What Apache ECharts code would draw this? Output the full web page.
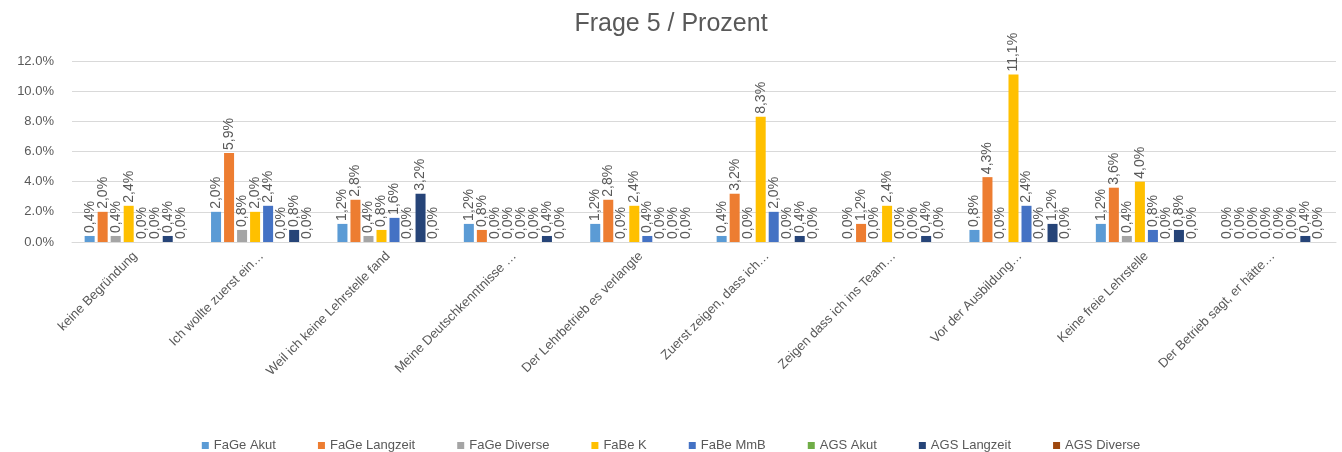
<!DOCTYPE html>
<html>
<head>
<meta charset="utf-8">
<script src="https://cdn.jsdelivr.net/npm/echarts@6/dist/echarts.min.js"></script>
<style>
  html, body { margin: 0; padding: 0; background: #fff; }
  #chart { width: 1342px; height: 452px; }
</style>
</head>
<body>
<div id="chart"></div>
<script>
// Kategorien (x-Achse)
var categories = ['keine Begründung', 'Ich wollte zuerst ein…', 'Weil ich keine Lehrstelle fand',
  'Meine Deutschkenntnisse …', 'Der Lehrbetrieb es verlangte', 'Zuerst zeigen, dass ich…',
  'Zeigen dass ich ins Team…', 'Vor der Ausbildung…', 'Keine freie Lehrstelle', 'Der Betrieb sagt, er hätte…'];

// Werte in Prozent je Serie
var fageAkut      = [0.4, 2.0, 1.2, 1.2, 1.2, 0.4, 0.0, 0.8, 1.2, 0.0];
var fageLangzeit  = [2.0, 5.9, 2.8, 0.8, 2.8, 3.2, 1.2, 4.3, 3.6, 0.0];
var fageDiverse   = [0.4, 0.8, 0.4, 0.0, 0.0, 0.0, 0.0, 0.0, 0.4, 0.0];
var fabeK         = [2.4, 2.0, 0.8, 0.0, 2.4, 8.3, 2.4, 11.1, 4.0, 0.0];
var fabeMmB       = [0.0, 2.4, 1.6, 0.0, 0.4, 2.0, 0.0, 2.4, 0.8, 0.0];
var agsAkut       = [0.0, 0.0, 0.0, 0.0, 0.0, 0.0, 0.0, 0.0, 0.0, 0.0];
var agsLangzeit   = [0.4, 0.8, 3.2, 0.4, 0.0, 0.4, 0.4, 1.2, 0.8, 0.4];
var agsDiverse    = [0.0, 0.0, 0.0, 0.0, 0.0, 0.0, 0.0, 0.0, 0.0, 0.0];

var seriesNames = ['FaGe Akut', 'FaGe Langzeit', 'FaGe Diverse', 'FaBe K', 'FaBe MmB', 'AGS Akut', 'AGS Langzeit', 'AGS Diverse'];
var seriesData = [fageAkut, fageLangzeit, fageDiverse, fabeK, fabeMmB, agsAkut, agsLangzeit, agsDiverse];
var colors = ['#5B9BD5', '#ED7D31', '#A5A5A5', '#FFC000', '#4472C4', '#70AD47', '#264478', '#9E480E'];

var txt = '#595959';
var font = 'Liberation Sans, Arial, sans-serif';

var chart = echarts.init(document.getElementById('chart'));

var series = [];
for (var i = 0; i < seriesNames.length; i++) {
  series.push({
    name: seriesNames[i],
    type: 'bar',
    data: seriesData[i],
    barGap: '30%',
    barCategoryGap: '20%',
    itemStyle: { color: colors[i] },
    label: {
      show: true,
      position: 'top',
      rotate: 90,
      align: 'left',
      verticalAlign: 'middle',
      distance: 3,
      color: txt,
      fontFamily: font,
      fontSize: 14,
      formatter: function (p) { return p.value.toFixed(1).replace('.', ',') + '%'; }
    }
  });
}

chart.setOption({
  animation: false,
  color: colors,
  title: {
    text: 'Frage 5 / Prozent',
    left: 'center',
    top: 7,
    textStyle: { color: txt, fontFamily: font, fontSize: 25, fontWeight: 'normal' }
  },
  legend: {
    data: seriesNames,
    top: 434,
    left: 'center',
    itemWidth: 7,
    itemHeight: 7,
    itemGap: 42,
    icon: 'rect',
    textStyle: { color: txt, fontFamily: font, fontSize: 13 }
  },
  grid: { left: 72, right: 6, top: 61, bottom: 210, containLabel: false },
  xAxis: {
    type: 'category',
    data: categories,
    axisLine: { lineStyle: { color: '#D9D9D9' } },
    axisTick: { show: false },
    axisLabel: { rotate: 45, color: txt, fontFamily: font, fontSize: 13, interval: 0, margin: 12 }
  },
  yAxis: {
    type: 'value',
    min: 0,
    max: 12,
    interval: 2,
    axisLine: { show: false },
    axisTick: { show: false },
    splitLine: { lineStyle: { color: '#D9D9D9' } },
    axisLabel: {
      color: txt, fontFamily: font, fontSize: 13, margin: 18,
      formatter: function (v) { return v.toFixed(1) + '%'; }
    }
  },
  series: series
});
</script>
</body>
</html>
